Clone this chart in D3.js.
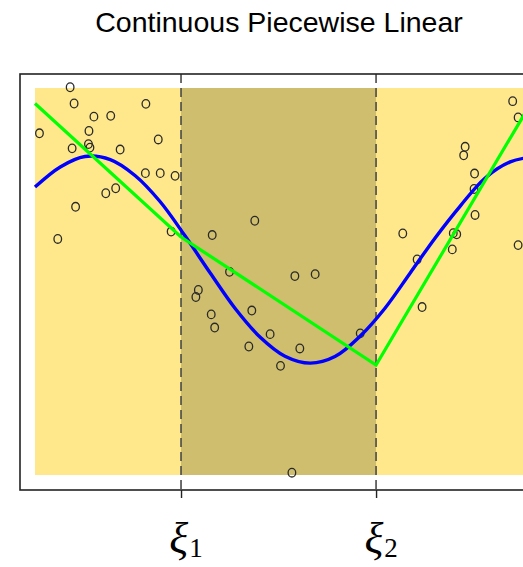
<!DOCTYPE html>
<html>
<head>
<meta charset="utf-8">
<script src="https://cdn.jsdelivr.net/npm/d3@7"></script>
<style>
  html, body { margin: 0; padding: 0; background: #fff; }
  svg { display: block; }
</style>
</head>
<body>
<svg id="chart" width="523" height="567"></svg>
<script>
// ---- data ----
const title = "Continuous Piecewise Linear";
const knots = [0.295, 0.689];
const knotLabels = ["ξ", "ξ"];
const knotSubs = ["1", "2"];

const pointsX = [0.071,0.079,0.224,0.119,0.153,0.009,0.109,0.249,0.108,0.075,
                 0.111,0.172,0.223,0.253,0.283,0.163,0.143,0.082,0.046,0.275,
                 0.358,0.444,0.393,0.525,0.566,0.330,0.325,0.356,0.438,0.363,
                 0.475,0.432,0.535,0.657,0.496,0.519,0.965,0.976,0.869,0.866,
                 0.888,0.887,0.889,0.743,0.845,0.852,0.843,0.772,0.782,0.976];
const pointsY = [1.002,0.960,0.959,0.926,0.928,0.883,0.889,0.867,0.855,0.844,
                 0.846,0.841,0.780,0.780,0.773,0.741,0.728,0.693,0.610,0.629,
                 0.620,0.657,0.525,0.514,0.519,0.478,0.460,0.415,0.425,0.381,
                 0.364,0.332,0.327,0.366,0.282,0.006,0.966,0.924,0.848,0.826,
                 0.779,0.739,0.672,0.624,0.625,0.622,0.583,0.557,0.434,0.594];

const trueX = [0.000,0.051,0.101,0.152,0.202,0.253,0.303,0.354,0.404,0.455,0.505,
               0.556,0.606,0.657,0.707,0.758,0.808,0.859,0.909,0.960,1.000];
const trueY = [0.744,0.796,0.823,0.815,0.774,0.706,0.618,0.522,0.431,0.356,0.307,
               0.289,0.306,0.359,0.431,0.522,0.612,0.695,0.767,0.809,0.821];

const fitX = [0.000, 0.295, 0.689, 1.000];
const fitY = [0.960, 0.615, 0.284, 0.957];

// ---- layout ----
const svg = d3.select("#chart");
const x = d3.scaleLinear().domain([0, 1]).range([35, 530]);
const y = d3.scaleLinear().domain([0, 1]).range([475, 88]);
const frame = { left: 20, top: 74, right: 545, bottom: 490 };

// title
svg.append("text")
  .attr("x", 279).attr("y", 32)
  .attr("text-anchor", "middle")
  .attr("font-family", "Liberation Sans, Arial, sans-serif")
  .attr("font-size", 28.5)
  .attr("fill", "#000")
  .text(title);

// background regions
svg.append("rect")
  .attr("x", x(0)).attr("y", y(1))
  .attr("width", x(1) - x(0)).attr("height", y(0) - y(1))
  .attr("fill", "#FFE88B");
svg.append("rect")
  .attr("x", x(knots[0])).attr("y", y(1))
  .attr("width", x(knots[1]) - x(knots[0])).attr("height", y(0) - y(1))
  .attr("fill", "#CEBE6E");

// dashed knot lines
svg.selectAll("line.knot").data(knots).join("line")
  .attr("class", "knot")
  .attr("x1", d => x(d)).attr("x2", d => x(d))
  .attr("y1", frame.top).attr("y2", frame.bottom)
  .attr("stroke", "#4a4a4a").attr("stroke-width", 1.6)
  .attr("stroke-dasharray", "9,5");

// frame
svg.append("rect")
  .attr("x", frame.left).attr("y", frame.top)
  .attr("width", frame.right - frame.left).attr("height", frame.bottom - frame.top)
  .attr("fill", "none").attr("stroke", "#222").attr("stroke-width", 1.6);

// x axis ticks at knots
const xAxis = d3.axisBottom(x).tickValues(knots).tickSize(8).tickFormat("");
const ax = svg.append("g").attr("transform", `translate(0,${frame.bottom})`).call(xAxis);
ax.select(".domain").remove();
ax.selectAll(".tick line").attr("stroke", "#222").attr("stroke-width", 1.4);

// tick labels
knots.forEach((k, i) => {
  const t = svg.append("text")
    .attr("x", x(k) + 5).attr("y", 553)
    .attr("text-anchor", "middle")
    .attr("font-family", "Liberation Serif, Times New Roman, serif")
    .attr("fill", "#000");
  t.append("tspan").attr("font-style", "italic").attr("font-size", 44).text(knotLabels[i]);
  t.append("tspan").attr("font-size", 27).attr("dy", 4).attr("dx", 1).text(knotSubs[i]);
});

// points
svg.append("g").selectAll("ellipse").data(pointsX.map((d, i) => [d, pointsY[i]])).join("ellipse")
  .attr("cx", d => x(d[0])).attr("cy", d => y(d[1]))
  .attr("rx", 3.8).attr("ry", 4.3)
  .attr("fill", "none").attr("stroke", "#2a2a2a").attr("stroke-width", 1.3);

// true curve (blue)
svg.append("path")
  .datum(trueX.map((d, i) => [d, trueY[i]]))
  .attr("d", d3.line().x(d => x(d[0])).y(d => y(d[1])).curve(d3.curveCatmullRom))
  .attr("fill", "none").attr("stroke", "#0000FF").attr("stroke-width", 3.4);

// fitted piecewise linear (green)
svg.append("path")
  .datum(fitX.map((d, i) => [d, fitY[i]]))
  .attr("d", d3.line().x(d => x(d[0])).y(d => y(d[1])))
  .attr("fill", "none").attr("stroke", "#00FF00").attr("stroke-width", 3.2);
</script>
</body>
</html>
